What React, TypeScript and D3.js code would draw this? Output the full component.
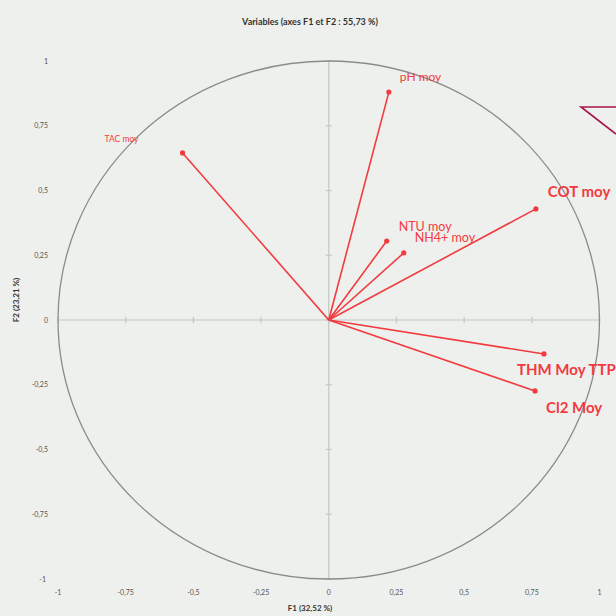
import React from "react";
import * as d3 from "d3";

// Correlation circle: loadings of each variable on F1 and F2
const variables = ["TAC moy", "pH moy", "NTU moy", "NH4+ moy", "COT moy", "THM Moy TTP", "Cl2 Moy"];
const f1 = [-0.54, 0.222, 0.214, 0.277, 0.765, 0.795, 0.762];
const f2 = [0.645, 0.88, 0.305, 0.259, 0.429, -0.131, -0.274];
const labelSize = [8.5, 12, 12.5, 12.5, 15, 15, 15];
const labelBold = [false, false, false, false, true, true, true];
const labelDx = [-78, 11, 12, 11, 12, -27, 11];
const labelDy = [-11, -11, -10, -11, -12, 21, 22];

const ticks = [-1, -0.75, -0.5, -0.25, 0, 0.25, 0.5, 0.75, 1];
const fmt = (v: number) => String(v).replace(".", ",");

const title = "Variables (axes F1 et F2 : 55,73 %)";
const xTitle = "F1 (32,52 %)";
const yTitle = "F2 (23,21 %)";

const W = 616;
const H = 616;
const red = "#f23a3f";
const font = "Lato, 'Open Sans', sans-serif";

export default function App() {
  const x = d3.scaleLinear().domain([-1, 1]).range([58, 599.5]);
  const y = d3.scaleLinear().domain([-1, 1]).range([579, 61]);
  const cx = x(0);
  const cy = y(0);
  const rx = x(1) - cx;
  const ry = cy - y(1);

  return (
    <svg
      width={W}
      height={H}
      style={{ position: "absolute", left: 0, top: 0, display: "block" }}
      fontFamily={font}
    >
      <rect width={W} height={H} fill="#eef0ed" />
      <text x={310} y={25} textAnchor="middle" fontSize={9} fontWeight="bold" fill="#333">
        {title}
      </text>

      {/* axes through the origin */}
      <line x1={x(-1)} x2={x(1)} y1={cy} y2={cy} stroke="#c4c6c4" strokeWidth={1.2} />
      <line x1={cx} x2={cx} y1={y(1)} y2={y(-1)} stroke="#c4c6c4" strokeWidth={1.2} />
      {ticks.map((t) => (
        <g key={"t" + t}>
          <line x1={x(t)} x2={x(t)} y1={cy - 3} y2={cy + 3} stroke="#c4c6c4" strokeWidth={1.2} />
          <line x1={cx - 3} x2={cx + 3} y1={y(t)} y2={y(t)} stroke="#c4c6c4" strokeWidth={1.2} />
        </g>
      ))}

      {/* unit circle */}
      <ellipse cx={cx} cy={cy} rx={rx} ry={ry} fill="none" stroke="#8a8c8a" strokeWidth={1.3} />

      {/* tick labels */}
      {ticks.map((t) => (
        <text key={"xl" + t} x={x(t)} y={595} textAnchor="middle" fontSize={7} fill="#555">
          {fmt(t)}
        </text>
      ))}
      {ticks.map((t) => (
        <text key={"yl" + t} x={t === -1 ? 46 : 48} y={y(t) + 2.5} textAnchor="end" fontSize={7} fill="#555">
          {fmt(t)}
        </text>
      ))}

      <text x={310} y={611} textAnchor="middle" fontSize={8} fontWeight="bold" fill="#333">
        {xTitle}
      </text>
      <text
        transform={`translate(19,${cy - 20}) rotate(-90)`}
        textAnchor="middle"
        fontSize={8}
        fontWeight="bold"
        fill="#333"
      >
        {yTitle}
      </text>

      {/* loading vectors */}
      {variables.map((v, i) => (
        <g key={v}>
          <line x1={cx} y1={cy} x2={x(f1[i])} y2={y(f2[i])} stroke={red} strokeWidth={1.6} />
          <circle cx={x(f1[i])} cy={y(f2[i])} r={2.6} fill={red} />
          <text
            x={x(f1[i]) + labelDx[i]}
            y={y(f2[i]) + labelDy[i]}
            fontSize={labelSize[i]}
            fontWeight={labelBold[i] ? "bold" : "normal"}
            fill={red}
          >
            {v}
          </text>
        </g>
      ))}

      {/* partial outline at the top-right corner */}
      <path d="M616,107 L581,107 L616,134" fill="none" stroke="#a8124d" strokeWidth={1.6} />
    </svg>
  );
}
